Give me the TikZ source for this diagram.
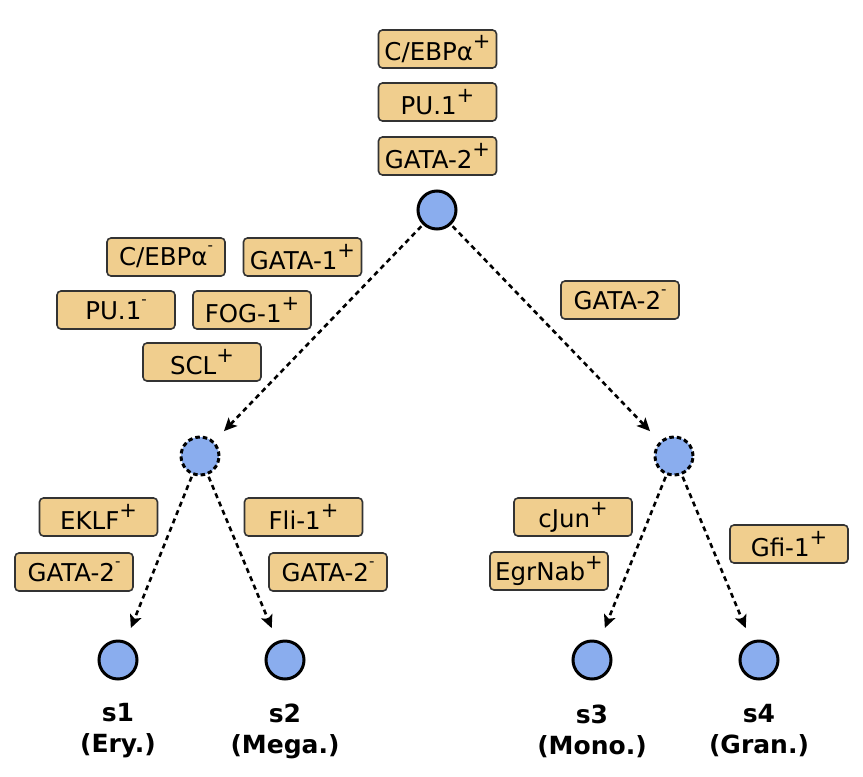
\documentclass[tikz,border=0pt]{standalone}
\usepackage{fontspec}
\setmainfont{DejaVu Sans}
\usetikzlibrary{arrows.meta}
\definecolor{boxfill}{RGB}{240,206,142}
\definecolor{cellfill}{RGB}{138,173,238}
\newcommand{\pos}{\raisebox{0.48em}{\fontsize{21}{21}\selectfont +}}
\newcommand{\nega}{\raisebox{0.6em}{\fontsize{15}{15}\selectfont -}}
\begin{document}
\begin{tikzpicture}[x=1pt,y=-1pt,
 tf/.style={draw=black!80, line width=1.6pt, fill=boxfill, rounded corners=4pt, minimum width=118pt, minimum height=38pt, inner sep=0pt, font=\fontsize{24.5}{24.5}\selectfont},
 cell/.style={circle, draw=black, line width=3pt, fill=cellfill, minimum size=38pt, inner sep=0pt},
 midcell/.style={cell, dash pattern=on 4.5pt off 3pt},
 trans/.style={line width=2.6pt, dash pattern=on 5pt off 4pt, -{Stealth[length=13pt,width=12pt,inset=3pt]}, shorten >=14pt, shorten <=2pt},
 lab/.style={align=center, font=\bfseries\fontsize{25}{31}\selectfont}]
\useasboundingbox (0,0) rectangle (863,777);
% top factors
\node[tf] (t1) at (437.5,49) {C/EBPα\pos};
\node[tf] (t2) at (437.5,102) {PU.1\pos};
\node[tf] (t3) at (437.5,156) {GATA-2\pos};
% cells
\node[cell] (root) at (437,210) {};
\node[midcell] (ml) at (200,456) {};
\node[midcell] (mr) at (674,456) {};
\node[cell] (s1) at (118,660) {};
\node[cell] (s2) at (285,660) {};
\node[cell] (s3) at (592,660) {};
\node[cell] (s4) at (759,660) {};
% left branch factors
\node[tf] (l1) at (166,257) {C/EBPα\nega};
\node[tf] (l2) at (302.5,257) {GATA-1\pos};
\node[tf] (l3) at (116,310) {PU.1\nega};
\node[tf] (l4) at (252,310) {FOG-1\pos};
\node[tf] (l5) at (202,362) {SCL\pos};
% right branch factor
\node[tf] (r1) at (620,300) {GATA-2\nega};
% lower factors
\node[tf] (a1) at (98.5,517) {EKLF\pos};
\node[tf] (a2) at (74,572) {GATA-2\nega};
\node[tf] (b1) at (303.5,517) {Fli-1\pos};
\node[tf] (b2) at (328,572) {GATA-2\nega};
\node[tf] (c1) at (573,517) {cJun\pos};
\node[tf] (c2) at (549,571) {EgrNab\pos};
\node[tf] (d1) at (789,544) {Gfi-1\pos};
% transitions
\draw[trans] (root) -- (ml);
\draw[trans] (root) -- (mr);
\draw[trans] (ml) -- (s1);
\draw[trans] (ml) -- (s2);
\draw[trans] (mr) -- (s3);
\draw[trans] (mr) -- (s4);
% labels
\node[lab] (s1lab) at (118,731) {s1\\(Ery.)};
\node[lab] (s2lab) at (285,731) {s2\\(Mega.)};
\node[lab] (s3lab) at (592,731) {s3\\(Mono.)};
\node[lab] (s4lab) at (759,731) {s4\\(Gran.)};
\end{tikzpicture}
\end{document}
